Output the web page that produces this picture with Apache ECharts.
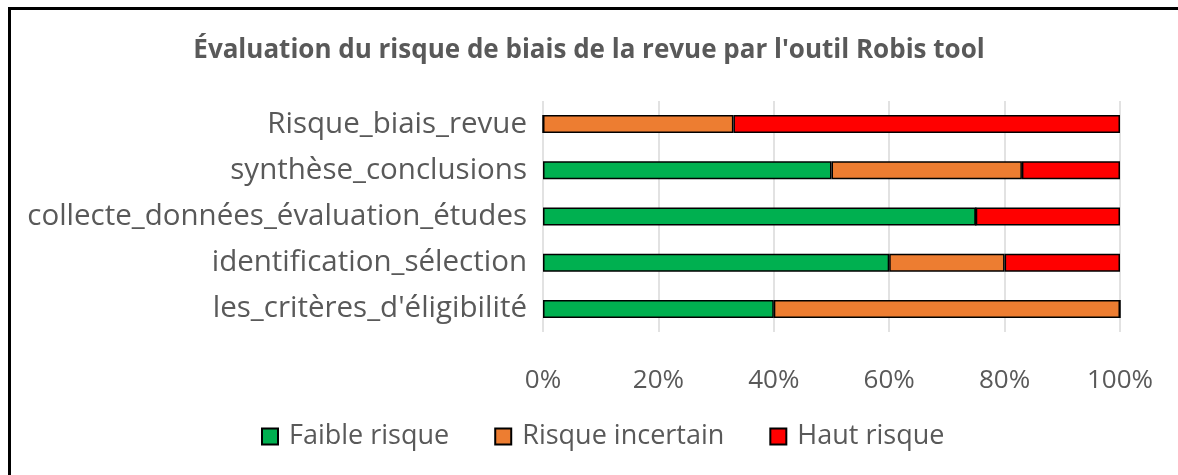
<!DOCTYPE html>
<html lang="fr">
<head>
    <meta charset="UTF-8">
    <title>Robis tool</title>
    <style>
        html, body { margin: 0; padding: 0; background: #fff; }
        #frame {
            position: absolute; left: 8px; top: 7px; width: 1180px; height: 480px;
            border-left: 3px solid #000; border-top: 3px solid #000;
        }
        #main { position: absolute; left: 0; top: 0; width: 1178px; height: 475px; }
    </style>
</head>
<body>
<div id="frame"></div>
<div id="main"></div>
<script src="https://cdn.jsdelivr.net/npm/echarts@6/dist/echarts.min.js"></script>
<script>
    // domaines, de bas en haut comme dans Excel
    var categories = ["les_critères_d'éligibilité", "identification_sélection",
        "collecte_données_évaluation_études", "synthèse_conclusions", "Risque_biais_revue"];
    var faible = [40, 60, 75, 50, 0];
    var incertain = [60, 20, 0, 33, 33];
    var haut = [0, 20, 25, 17, 67];
    var xTicks = [0, 20, 40, 60, 80, 100];

    var font = '"Open Sans", sans-serif';
    var grey = '#595959';

    var myChart = echarts.init(document.getElementById('main'));

    function serie(name, data, color) {
        return {
            name: name,
            type: 'bar',
            stack: 'total',
            data: data,
            barWidth: 18,
            itemStyle: { color: color, borderColor: '#000', borderWidth: 1.5 }
        };
    }

    var option = {
        animation: false,
        title: {
            text: "Évaluation du risque de biais de la revue par l'outil Robis tool",
            left: 'center',
            top: 33,
            textStyle: { fontFamily: font, fontSize: 26, fontWeight: 'bold', color: grey }
        },
        legend: {
            bottom: 20,
            left: 256,
            itemGap: 45,
            itemWidth: 16,
            itemHeight: 16,
            icon: 'rect',
            textStyle: { fontFamily: font, fontSize: 27, color: grey, padding: [0, 0, 0, 6] },
            data: ['Faible risque', 'Risque incertain', 'Haut risque']
        },
        grid: { left: 543, right: 58, top: 101, height: 231, containLabel: false },
        xAxis: {
            type: 'value',
            min: 0,
            max: 100,
            interval: 20,
            axisLine: { show: false },
            axisTick: { show: false },
            splitLine: { lineStyle: { color: '#d9d9d9', width: 1.5 } },
            axisLabel: {
                margin: 36,
                fontFamily: font, fontSize: 26, color: grey,
                formatter: function (v) { return xTicks.indexOf(v) > -1 ? v + '%' : ''; }
            }
        },
        yAxis: {
            type: 'category',
            data: categories,
            axisLine: { show: false },
            axisTick: { show: false },
            axisLabel: { margin: 16, fontFamily: font, fontSize: 29.5, color: grey }
        },
        series: [
            serie('Faible risque', faible, '#00b050'),
            serie('Risque incertain', incertain, '#ed7d31'),
            serie('Haut risque', haut, '#ff0000')
        ]
    };
    myChart.setOption(option);
</script>
</body>
</html>
